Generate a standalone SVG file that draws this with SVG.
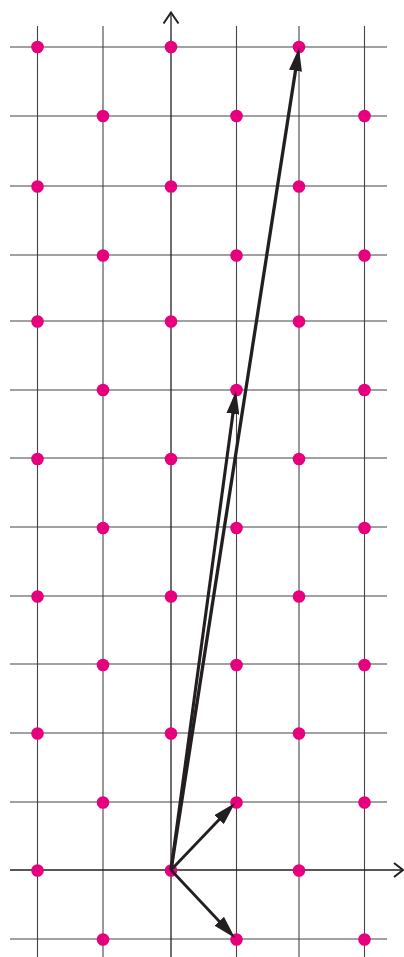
<svg xmlns="http://www.w3.org/2000/svg" width="404" height="957" viewBox="0 0 404 957">
<style>
.grid line{stroke:#444;stroke-width:1.1}
.axis{stroke:#231f20;stroke-width:1.3;fill:none}
.chev{stroke:#231f20;stroke-width:2;fill:none;stroke-linecap:butt;stroke-linejoin:miter}
.dot{fill:#e6007e}
.vec{stroke:#231f20;fill:none;marker-end:url(#ah)}
</style>
<defs>
<marker id="ah" markerUnits="userSpaceOnUse" viewBox="0 0 23 13" markerWidth="23" markerHeight="13" refX="15" refY="6.5" orient="auto">
<path d="M0,0 L23,6.5 L0,13 z" fill="#231f20"/>
</marker>
</defs>
<rect width="404" height="957" fill="#fff"/>
<g id="grid" class="grid">
<line x1="10" y1="47" x2="387" y2="47"/>
<line x1="10" y1="116" x2="387" y2="116"/>
<line x1="10" y1="186" x2="387" y2="186"/>
<line x1="10" y1="255" x2="387" y2="255"/>
<line x1="10" y1="321" x2="387" y2="321"/>
<line x1="10" y1="390" x2="387" y2="390"/>
<line x1="10" y1="458" x2="387" y2="458"/>
<line x1="10" y1="527" x2="387" y2="527"/>
<line x1="10" y1="596" x2="387" y2="596"/>
<line x1="10" y1="664" x2="387" y2="664"/>
<line x1="10" y1="733" x2="387" y2="733"/>
<line x1="10" y1="802" x2="387" y2="802"/>
<line x1="10" y1="939" x2="387" y2="939"/>
<line x1="37.5" y1="26" x2="37.5" y2="957"/>
<line x1="103" y1="26" x2="103" y2="957"/>
<line x1="236.5" y1="26" x2="236.5" y2="957"/>
<line x1="299" y1="26" x2="299" y2="957"/>
<line x1="364.5" y1="26" x2="364.5" y2="957"/>
</g>
<g id="axes">
<line class="axis" x1="171" y1="12" x2="171" y2="957"/>
<line class="axis" x1="10" y1="870" x2="402" y2="870"/>
<polyline class="chev" points="163.5,23.5 171,12.5 178.5,23.5"/>
<polyline class="chev" points="394,863 403,870 394,877"/>
</g>
<g id="dots">
<circle class="dot" cx="37.5" cy="47" r="6.3"/><circle class="dot" cx="171" cy="47" r="6.3"/><circle class="dot" cx="299" cy="47" r="6.3"/>
<circle class="dot" cx="103" cy="116" r="6.3"/><circle class="dot" cx="236.5" cy="116" r="6.3"/><circle class="dot" cx="364.5" cy="116" r="6.3"/>
<circle class="dot" cx="37.5" cy="186.5" r="6.3"/><circle class="dot" cx="171" cy="186.5" r="6.3"/><circle class="dot" cx="299" cy="186.5" r="6.3"/>
<circle class="dot" cx="103" cy="255.5" r="6.3"/><circle class="dot" cx="236.5" cy="255.5" r="6.3"/><circle class="dot" cx="364.5" cy="255.5" r="6.3"/>
<circle class="dot" cx="37.5" cy="321.5" r="6.3"/><circle class="dot" cx="171" cy="321.5" r="6.3"/><circle class="dot" cx="299" cy="321.5" r="6.3"/>
<circle class="dot" cx="103" cy="390" r="6.3"/><circle class="dot" cx="236.5" cy="390" r="6.3"/><circle class="dot" cx="364.5" cy="390" r="6.3"/>
<circle class="dot" cx="37.5" cy="459" r="6.3"/><circle class="dot" cx="171" cy="459" r="6.3"/><circle class="dot" cx="299" cy="459" r="6.3"/>
<circle class="dot" cx="103" cy="528" r="6.3"/><circle class="dot" cx="236.5" cy="528" r="6.3"/><circle class="dot" cx="364.5" cy="528" r="6.3"/>
<circle class="dot" cx="37.5" cy="596.5" r="6.3"/><circle class="dot" cx="171" cy="596.5" r="6.3"/><circle class="dot" cx="299" cy="596.5" r="6.3"/>
<circle class="dot" cx="103" cy="665" r="6.3"/><circle class="dot" cx="236.5" cy="665" r="6.3"/><circle class="dot" cx="364.5" cy="665" r="6.3"/>
<circle class="dot" cx="37.5" cy="733.5" r="6.3"/><circle class="dot" cx="171" cy="733.5" r="6.3"/><circle class="dot" cx="299" cy="733.5" r="6.3"/>
<circle class="dot" cx="103" cy="802.5" r="6.3"/><circle class="dot" cx="236.5" cy="802.5" r="6.3"/><circle class="dot" cx="364.5" cy="802.5" r="6.3"/>
<circle class="dot" cx="37.5" cy="870.5" r="6.3"/><circle class="dot" cx="171" cy="870.5" r="6.3"/><circle class="dot" cx="299" cy="870.5" r="6.3"/>
<circle class="dot" cx="103" cy="939.5" r="6.3"/><circle class="dot" cx="236.5" cy="939.5" r="6.3"/><circle class="dot" cx="364.5" cy="939.5" r="6.3"/>
</g>
<g id="connectors">
<line class="vec" x1="171" y1="870" x2="297.77" y2="55.9" stroke-width="3.3"/>
<line class="vec" x1="171" y1="870" x2="234.92" y2="398.93" stroke-width="3.1"/>
<line class="vec" x1="171" y1="870" x2="229.48" y2="808.78" stroke-width="2.8"/>
<line class="vec" x1="171" y1="870" x2="229.52" y2="932.18" stroke-width="2.8"/>
</g>
</svg>
